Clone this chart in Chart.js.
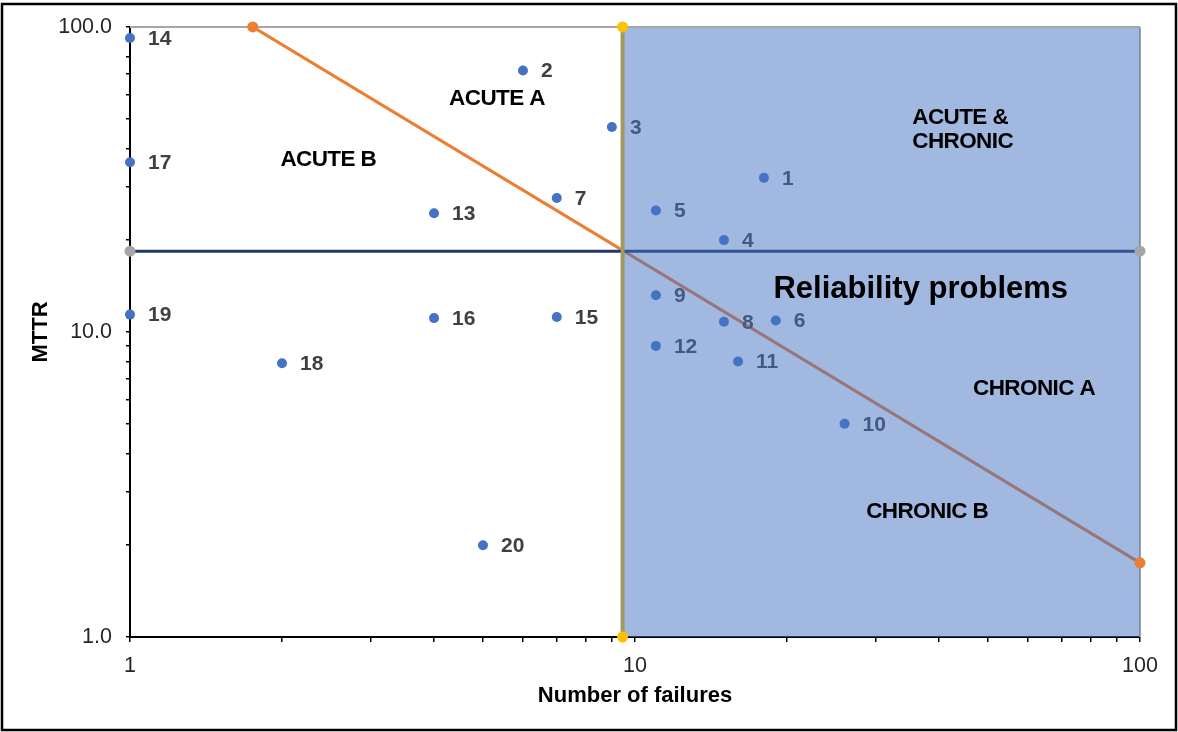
<!DOCTYPE html>
<html>
<head>
<meta charset="utf-8">
<script src="https://cdn.jsdelivr.net/npm/chart.js@4/dist/chart.umd.min.js"></script>
<style>
  html, body { margin: 0; padding: 0; background: #ffffff; }
  #wrap { width: 1178px; height: 732px; position: relative; }
</style>
</head>
<body>
<div id="wrap"><canvas id="chart" width="1178" height="732"></canvas></div>
<script>
// Equipment items: number of failures vs. mean time to repair
const pointIds = ['1','2','3','4','5','6','7','8','9','10','11','12','13','14','15','16','17','18','19','20'];
const failures = [18, 6, 9, 15, 11, 19, 7, 15, 11, 26, 16, 11, 4, 1, 7, 4, 1, 2, 1, 5];
const mttr     = [32, 72, 47, 20, 25, 10.9, 27.5, 10.8, 13.2, 5, 8, 9, 24.5, 92, 11.2, 11.1, 36, 7.9, 11.4, 2];

// Threshold lines
const failureLimit = [9.45];
const mttrLimit = [18.4];
const diagonalFailures = [1.75, 100];
const diagonalMttr = [100, 1.75];

// Axes
const axisRange = [1, 100];
const xTickLabels = ['1', '10', '100'];
const yTickLabels = ['1.0', '10.0', '100.0'];

// Zone captions (data coordinates)
const zoneNames = ['ACUTE A', 'ACUTE B', 'ACUTE &\nCHRONIC', 'Reliability problems', 'CHRONIC A', 'CHRONIC B'];
const zoneFailures = [5.33, 2.47, 35.4, 36.8, 61.7, 37.9];
const zoneMttr = [58.2, 36.7, 46.1, 13.8, 6.51, 2.58];

const FONT = '"Liberation Sans", Arial, sans-serif';
const zoneStyle = [
  { size: 22.5, align: 'center' },
  { size: 22.5, align: 'center' },
  { size: 22.5, align: 'left' },
  { size: 31, align: 'center' },
  { size: 22.5, align: 'center' },
  { size: 22.5, align: 'center' }
];

const [lo, hi] = axisRange;
const equipment = failures.map((f, i) => ({ x: f, y: mttr[i] }));
const diagonal = diagonalFailures.map((f, i) => ({ x: f, y: diagonalMttr[i] }));
const vLine = [{ x: failureLimit[0], y: lo }, { x: failureLimit[0], y: hi }];
const hLine = [{ x: lo, y: mttrLimit[0] }, { x: hi, y: mttrLimit[0] }];
const zoneTop = [{ x: failureLimit[0], y: hi }, { x: hi, y: hi }];

// 1..9, 10..90, 100
function logTickValues(min, max) {
  const out = [];
  for (let p = min; p < max; p *= 10) {
    for (let k = 1; k < 10; k++) out.push(p * k);
  }
  out.push(max);
  return out;
}
function isDecade(v) {
  const l = Math.log10(v);
  return Math.abs(l - Math.round(l)) < 1e-9;
}

const HLINE_INDEX = 7;
const ZONE_INDEX = 5;

const layeredText = {
  id: 'layeredText',
  afterDatasetDraw(chart, args) {
    const ctx = chart.ctx;
    const a = chart.chartArea;
    if (args.index === HLINE_INDEX) {
      // right edge of plot and point labels sit under the shaded zone
      ctx.save();
      ctx.strokeStyle = '#a6a6a6';
      ctx.lineWidth = 2;
      ctx.beginPath();
      ctx.moveTo(a.right, a.top);
      ctx.lineTo(a.right, a.bottom);
      ctx.stroke();
      const meta = chart.getDatasetMeta(0);
      ctx.font = 'bold 21px ' + FONT;
      ctx.fillStyle = '#404040';
      ctx.textAlign = 'left';
      ctx.textBaseline = 'middle';
      meta.data.forEach((el, i) => {
        ctx.fillText(pointIds[i], el.x + 18, el.y + 1);
      });
      ctx.restore();
    }
    if (args.index === ZONE_INDEX) {
      ctx.save();
      ctx.strokeStyle = '#a6a6a6';
      ctx.lineWidth = 2;
      ctx.beginPath();
      ctx.moveTo(a.left, a.top);
      ctx.lineTo(a.right, a.top);
      ctx.stroke();
      ctx.restore();
    }
  },
  afterDatasetsDraw(chart) {
    const ctx = chart.ctx;
    const xs = chart.scales.x, ys = chart.scales.y;
    ctx.save();
    ctx.fillStyle = '#000000';
    ctx.textBaseline = 'middle';
    zoneNames.forEach((name, i) => {
      const st = zoneStyle[i];
      ctx.font = 'bold ' + st.size + 'px ' + FONT;
      ctx.textAlign = st.align;
      if ('letterSpacing' in ctx) ctx.letterSpacing = st.size > 25 ? '0px' : '-0.6px';
      const px = xs.getPixelForValue(zoneFailures[i]);
      const py = ys.getPixelForValue(zoneMttr[i]);
      const lines = name.split('\n');
      const lh = 24;
      lines.forEach((ln, k) => {
        ctx.fillText(ln, px, py + (k - (lines.length - 1) / 2) * lh);
      });
    });
    ctx.restore();
  },
  beforeDraw(chart) {
    const ctx = chart.ctx;
    ctx.save();
    ctx.fillStyle = '#ffffff';
    ctx.fillRect(0, 0, chart.width, chart.height);
    ctx.restore();
  },
  afterDraw(chart) {
    const ctx = chart.ctx;
    ctx.save();
    ctx.strokeStyle = '#000000';
    ctx.lineWidth = 2.5;
    ctx.strokeRect(2, 4, chart.width - 4, chart.height - 6);
    ctx.restore();
  }
};

const tickFont = { family: FONT, size: 21.5 };
const titleFont = { family: FONT, size: 22, weight: 'bold' };

new Chart(document.getElementById('chart'), {
  type: 'scatter',
  data: {
    datasets: [
      { label: 'Equipment', data: equipment, backgroundColor: '#4472c4', borderWidth: 0, pointRadius: 5, order: 1, clip: false },
      { label: 'Diagonal ends', data: diagonal, backgroundColor: '#ed7d31', borderWidth: 0, pointRadius: 5.5, order: 2, clip: false },
      { label: 'Failure limit ends', data: vLine, backgroundColor: '#ffc000', borderWidth: 0, pointRadius: 5.5, order: 2, clip: false },
      { label: 'MTTR limit ends', data: hLine, backgroundColor: '#a5a5a5', borderWidth: 0, pointRadius: 5.5, order: 2, clip: false },
      { type: 'line', label: 'Failure limit', data: vLine, borderColor: '#a19962', borderWidth: 4, pointRadius: 0, fill: false, order: 3 },
      { type: 'line', label: 'Reliability zone', data: zoneTop, borderWidth: 0, borderColor: 'rgba(0,0,0,0)', backgroundColor: 'rgba(68,114,196,0.5)', pointRadius: 0, fill: 'start', order: 5 },
      { type: 'line', label: 'Iso-downtime', data: diagonal, borderColor: '#ed7d31', borderWidth: 3, pointRadius: 0, fill: false, order: 8 },
      { type: 'line', label: 'MTTR limit', data: hLine, borderColor: '#1f3864', borderWidth: 3, pointRadius: 0, fill: false, order: 6 }
    ]
  },
  options: {
    responsive: false,
    animation: false,
    events: [],
    layout: { padding: { top: 25, right: 38, left: 0, bottom: 0 } },
    plugins: { legend: { display: false }, tooltip: { enabled: false }, title: { display: false } },
    scales: {
      x: {
        type: 'logarithmic',
        min: lo, max: hi,
        afterBuildTicks: s => { s.ticks = logTickValues(lo, hi).map(v => ({ value: v })); },
        afterFit: s => { s.height = 95; },
        ticks: {
          autoSkip: false, maxRotation: 0, padding: 11, color: '#262626', font: tickFont,
          callback: v => isDecade(v) ? xTickLabels[Math.round(Math.log10(v / lo))] : ''
        },
        grid: { drawOnChartArea: false, drawTicks: true, tickLength: 5, color: '#000000', lineWidth: 1.5 },
        border: { display: true, color: '#000000', width: 2 },
        title: { display: true, text: 'Number of failures', color: '#000000', font: titleFont, padding: { top: 0, bottom: 23 } }
      },
      y: {
        type: 'logarithmic',
        min: lo, max: hi,
        afterBuildTicks: s => { s.ticks = logTickValues(lo, hi).map(v => ({ value: v })); },
        afterFit: s => { s.width = 130; },
        ticks: {
          autoSkip: false, padding: 14, color: '#262626', font: tickFont,
          callback: v => isDecade(v) ? yTickLabels[Math.round(Math.log10(v / lo))] : ''
        },
        grid: { drawOnChartArea: false, drawTicks: true, tickLength: 4, color: '#000000', lineWidth: 1.5 },
        border: { display: true, color: '#000000', width: 2 },
        title: { display: true, text: 'MTTR', color: '#000000', font: titleFont, padding: { top: 28, bottom: 0 } }
      }
    }
  },
  plugins: [layeredText]
});
</script>
</body>
</html>
